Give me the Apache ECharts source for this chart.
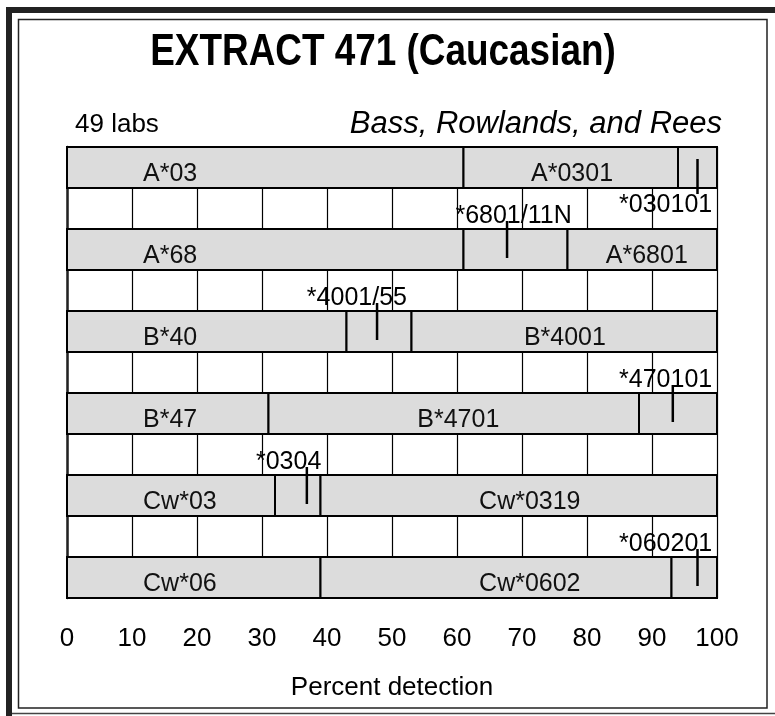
<!DOCTYPE html>
<html lang="en">
<head>
    <meta charset="UTF-8">
    <title>EXTRACT 471 (Caucasian)</title>
    <style>
        html, body {margin: 0; padding: 0; background: #fff;}
    </style>
</head>
<body>
<script src="https://cdn.jsdelivr.net/npm/echarts@6/dist/echarts.min.js"></script>

<div id="first" style="width: 775px;height:716px;"></div>
<script type="text/javascript">

// groups (first label of each bar) and the split antigen name
var groups = ['A*03', 'A*68', 'B*40', 'B*47', 'Cw*03', 'Cw*06'];
var splitNames = ['A*0301', 'A*6801', 'B*4001', 'B*4701', 'Cw*0319', 'Cw*0602'];
// segment boundaries in percent detection
var bounds = [[61, 94], [61, 77], [43, 53], [31, 88], [32, 39], [39, 93]];
// allele marker and its name
var markerAt = [97, 67.7, 47.7, 93.2, 36.9, 97];
var markerNames = ['*030101', '*6801/11N', '*4001/55', '*470101', '*0304', '*060201'];
var xTicks = [0, 10, 20, 30, 40, 50, 60, 70, 80, 90, 100];

// where the texts sit (percent units)
var groupLabelAt = 11.7;
var splitLabelAt = [77.7, 89.2, 76.6, 60.2, 71.2, 71.2];
var markerLabelAt = [92.1, 68.7, 44.6, 92.1, 34.1, 92.1];
var markerBelow = [true, false, false, false, false, false];

var FONT = "'Liberation Sans', Arial, sans-serif";

var myChart = echarts.init(document.getElementById("first"));

function renderRow(params, api) {
    var r = api.value(0);
    var top = api.coord([0, 2 * r])[1];
    var bot = api.coord([0, 2 * r + 1])[1];
    var edges = [0].concat(bounds[r]).concat([100]);
    var kids = [];
    for (var i = 0; i < edges.length - 1; i++) {
        var x0 = api.coord([edges[i], 0])[0];
        var x1 = api.coord([edges[i + 1], 0])[0];
        kids.push({
            type: 'rect',
            shape: {x: x0, y: top, width: x1 - x0, height: bot - top},
            style: {fill: '#dcdcdc', stroke: '#000', lineWidth: 2}
        });
    }
    var mid = (top + bot) / 2 + 7;
    kids.push({
        type: 'text',
        style: {text: groups[r], x: api.coord([groupLabelAt, 0])[0], y: mid,
            font: '25px ' + FONT, fill: '#111', align: 'left', verticalAlign: 'middle'}
    });
    kids.push({
        type: 'text',
        style: {text: splitNames[r], x: api.coord([splitLabelAt[r], 0])[0], y: mid,
            font: '25px ' + FONT, fill: '#111', align: 'center', verticalAlign: 'middle'}
    });
    var mx = api.coord([markerAt[r], 0])[0];
    var y0, y1, ty;
    if (markerBelow[r]) {
        y0 = top + 12; y1 = bot + 6; ty = bot + 17;
    } else {
        y0 = top - 8; y1 = top + 29; ty = top - 13;
    }
    kids.push({
        type: 'text',
        style: {text: markerNames[r], x: api.coord([markerLabelAt[r], 0])[0], y: ty,
            font: '25px ' + FONT, fill: '#000', align: 'center', verticalAlign: 'middle'}
    });
    kids.push({
        type: 'line',
        shape: {x1: mx, y1: y0, x2: mx, y2: y1},
        style: {stroke: '#000', lineWidth: 2.5}
    });
    return {type: 'group', children: kids};
}

myChart.setOption({
    animation: false,
    grid: {left: 67, right: 58, top: 147, bottom: 118},
    xAxis: {
        type: 'value', min: xTicks[0], max: xTicks[xTicks.length - 1], interval: 10,
        axisLine: {show: true, lineStyle: {color: '#000', width: 2}},
        axisTick: {show: true, length: 9, lineStyle: {color: '#000', width: 1.5}},
        axisLabel: {color: '#000', fontSize: 26, fontFamily: FONT, margin: 28,
            formatter: function (v) { return xTicks.indexOf(v) >= 0 ? String(v) : ''; }},
        splitLine: {show: true, lineStyle: {color: '#000', width: 1.2}},
        name: 'Percent detection', nameLocation: 'middle', nameGap: 77,
        nameTextStyle: {color: '#000', fontSize: 26, fontFamily: FONT}
    },
    yAxis: {
        type: 'value', min: 0, max: 11, inverse: true,
        axisLine: {show: true, lineStyle: {color: '#222', width: 2.5}},
        axisTick: {show: false}, axisLabel: {show: false}, splitLine: {show: false}
    },
    series: [{
        type: 'custom',
        renderItem: renderRow,
        data: groups.map(function (g, i) { return [i]; }),
        encode: {x: -1, y: 0}
    }],
    graphic: [
        {type: 'rect', shape: {x: 6, y: 7, width: 775, height: 6}, style: {fill: '#222'}},
        {type: 'rect', shape: {x: 6, y: 7, width: 6, height: 716}, style: {fill: '#222'}},
        {type: 'rect', shape: {x: 18.5, y: 19.5, width: 748.5, height: 688.5},
            style: {fill: 'none', stroke: '#222', lineWidth: 1.5}},
        {type: 'line', shape: {x1: 12, y1: 713.5, x2: 775, y2: 713.5},
            style: {stroke: '#444', lineWidth: 1.5}},
        {type: 'text', x: 383, y: 53, scaleX: 0.82,
            style: {text: 'EXTRACT 471 (Caucasian)', x: 0, y: 0,
            font: 'bold 45px ' + FONT, fill: '#000', align: 'center', verticalAlign: 'middle'}},
        {type: 'text', style: {text: '49 labs', x: 75, y: 125,
            font: '26px ' + FONT, fill: '#000', align: 'left', verticalAlign: 'middle'}},
        {type: 'text', style: {text: 'Bass, Rowlands, and Rees', x: 722, y: 124,
            font: 'italic 31px ' + FONT, fill: '#000', align: 'right', verticalAlign: 'middle'}}
    ]
});

</script>
</body>
</html>
